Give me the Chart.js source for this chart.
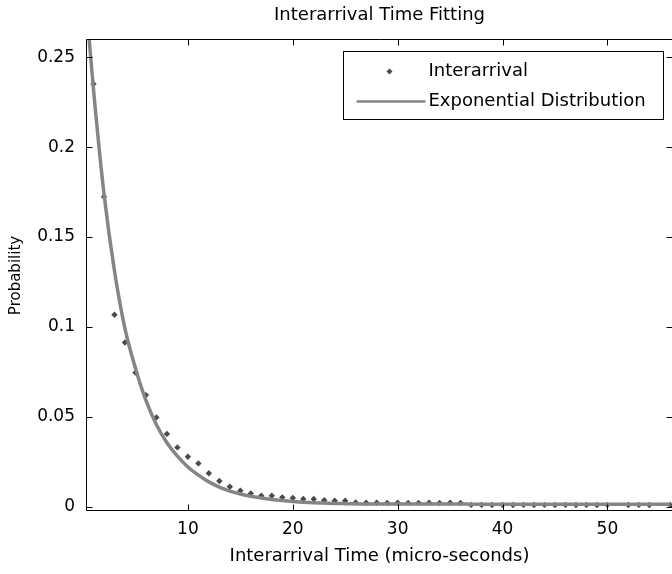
<!DOCTYPE html>
<html>
<head>
<meta charset="utf-8">
<script src="https://cdn.jsdelivr.net/npm/chart.js@4.4.1/dist/chart.umd.min.js"></script>
<style>
html, body { margin: 0; padding: 0; background: #ffffff; }
#wrap { width: 672px; height: 574px; position: relative; }
</style>
</head>
<body>
<div id="wrap"><canvas id="c" width="672" height="574"></canvas></div>
<script>
// ---------- values ----------
const titleText = 'Interarrival Time Fitting';
const xAxisTitle = 'Interarrival Time (micro-seconds)';
const yAxisTitle = 'Probability';
const seriesNames = ['Interarrival', 'Exponential Distribution'];

const interarrivalX = [1,2,3,4,5,6,7,8,9,10,11,12,13,14,15,16,17,18,19,20,21,22,23,24,25,26,27,28,29,30,31,32,33,34,35,36,37,38,39,40,41,42,43,44,45,46,47,48,49,50,51,52,53,54,55,56];
const interarrivalY = [0.2351,0.1724,0.1067,0.0913,0.0745,0.0620,0.0496,0.0404,0.0329,0.0277,0.0240,0.0185,0.0142,0.0110,0.0088,0.0073,0.0060,0.0060,0.0051,0.0047,0.0042,0.0042,0.0035,0.0032,0.0032,0.0022,0.0021,0.0021,0.0020,0.0021,0.0020,0.0020,0.0021,0.0020,0.0021,0.0020,0.0009,0.0009,0.0008,0.0009,0.0008,0.0009,0.0008,0.0009,0.0008,0.0009,0.0008,0.0009,0.0008,0.0009,null,0.0008,0.0009,0.0008,null,0.0008];

const fitX = [0,1,2,3,4,5,6,7,8,9,10,11,12,13,14,15,16,17,18,19,20,21,22,23,24,25,26,27,28,29,30,31,32,33,34,35,36,37,38,39,40,41,42,43,44,45,46,47,48,49,50,51,52,53,54,55,56];
const fitY = [0.300,0.232,0.174,0.131,0.099,0.077,0.059,0.0455,0.0355,0.028,0.022,0.0175,0.0137,0.0108,0.0086,0.0070,0.0057,0.0047,0.0039,0.0033,0.0028,0.0024,0.0021,0.0019,0.0017,0.0016,0.0015,0.0014,0.0014,0.0014,0.0014,0.0014,0.0014,0.0014,0.0014,0.0014,0.0014,0.0013,0.0013,0.0013,0.0013,0.0013,0.0013,0.0013,0.0013,0.0013,0.0013,0.0013,0.0013,0.0013,0.0013,0.0013,0.0013,0.0013,0.0013,0.0013,0.0013];

const xTicks = [10, 20, 30, 40, 50];
const xTickLabels = ['10', '20', '30', '40', '50'];
const yTicks = [0, 0.05, 0.1, 0.15, 0.2, 0.25];
const yTickLabels = ['0', '0.05', '0.1', '0.15', '0.2', '0.25'];

const xRange = [0.38, 56.16];
const yRange = [-0.0025, 0.2596];

// ---------- styles ----------
const FONT = '"DejaVu Sans", "Liberation Sans", Arial, sans-serif';
const markerColor = '#4a4a4a';
const lineColor = '#858585';

const boxPlugin = {
  id: 'matlabBox',
  afterDraw(chart) {
    const ctx = chart.ctx;
    const ca = chart.chartArea;
    const xs = chart.scales.x, ys = chart.scales.y;
    const L = Math.round(ca.left) - 0.5, T = Math.round(ca.top) - 0.5;
    const B = Math.round(ca.bottom) - 0.5, R = Math.round(ca.right) + 0.5;
    const tl = 6;
    ctx.save();
    ctx.strokeStyle = '#000';
    ctx.lineWidth = 1;
    ctx.beginPath();
    ctx.moveTo(R, T); ctx.lineTo(L, T); ctx.lineTo(L, B); ctx.lineTo(R, B);
    for (const v of xTicks) {
      const px = Math.round(xs.getPixelForValue(v)) + 0.5;
      ctx.moveTo(px, B); ctx.lineTo(px, B - tl);
      ctx.moveTo(px, T); ctx.lineTo(px, T + tl);
    }
    for (const v of yTicks) {
      const py = Math.round(ys.getPixelForValue(v)) + 0.5;
      ctx.moveTo(L, py); ctx.lineTo(L + tl, py);
      ctx.moveTo(R, py); ctx.lineTo(R - tl, py);
    }
    ctx.stroke();

    // legend inside the axes, top-right
    const boxW = 320, boxH = 68;
    const bx = Math.round(ca.right - 9 - boxW) + 0.5;
    const by = Math.round(ca.top + 12) - 0.5;
    ctx.fillStyle = '#fff';
    ctx.fillRect(bx, by, boxW, boxH);
    ctx.strokeRect(bx, by, boxW, boxH);
    const ds = chart.data.datasets;
    const row1 = by + 20, row2 = by + 50;
    ctx.fillStyle = ds[0].backgroundColor;
    ctx.beginPath();
    const mx = bx + 46, r = 3;
    ctx.moveTo(mx, row1 - r); ctx.lineTo(mx + r, row1); ctx.lineTo(mx, row1 + r); ctx.lineTo(mx - r, row1); ctx.closePath();
    ctx.fill();
    ctx.strokeStyle = ds[1].borderColor;
    ctx.lineWidth = 2.5;
    ctx.beginPath();
    ctx.moveTo(bx + 13, row2); ctx.lineTo(bx + 82, row2);
    ctx.stroke();
    ctx.fillStyle = '#000';
    ctx.font = '18px ' + FONT;
    ctx.textBaseline = 'middle';
    ctx.textAlign = 'left';
    ctx.fillText(ds[0].label, bx + 85, row1);
    ctx.fillText(ds[1].label, bx + 85, row2);
    ctx.restore();
  }
};

new Chart(document.getElementById('c'), {
  type: 'scatter',
  data: {
    datasets: [
      {
        label: seriesNames[0],
        data: interarrivalX.map((x, i) => ({ x: x, y: interarrivalY[i] })),
        pointStyle: 'rectRot',
        pointRadius: 3.2,
        pointHoverRadius: 3.2,
        backgroundColor: markerColor,
        borderColor: markerColor,
        borderWidth: 0,
        showLine: false,
        order: 2
      },
      {
        type: 'line',
        label: seriesNames[1],
        data: fitX.map((x, i) => ({ x: x, y: fitY[i] })),
        borderColor: lineColor,
        backgroundColor: lineColor,
        borderWidth: 3.5,
        pointRadius: 0,
        fill: false,
        cubicInterpolationMode: 'monotone',
        clip: 0,
        order: 1
      }
    ]
  },
  options: {
    responsive: false,
    animation: false,
    devicePixelRatio: 1,
    layout: { autoPadding: false, padding: { left: 0, right: 0, top: 0, bottom: 0 } },
    plugins: { legend: { display: false }, tooltip: { enabled: false }, title: { display: false } },
    scales: {
      x: {
        type: 'linear',
        position: 'bottom',
        min: xRange[0], max: xRange[1],
        afterBuildTicks: s => { s.ticks = xTicks.map(v => ({ value: v })); },
        afterFit: s => { s.height = 63; },
        grid: { display: false, drawTicks: false },
        border: { display: false },
        ticks: {
          color: '#000', padding: 8, maxRotation: 0, autoSkip: false,
          font: { family: FONT, size: 17 },
          callback: (v, i) => xTickLabels[i]
        },
        title: {
          display: true, text: xAxisTitle, color: '#000',
          font: { family: FONT, size: 18 },
          padding: { top: 0, bottom: 6.5 }
        }
      },
      top: {
        type: 'linear',
        position: 'top',
        min: 0, max: 1,
        afterBuildTicks: s => { s.ticks = []; },
        afterFit: s => { s.height = 40; },
        grid: { display: false, drawTicks: false },
        border: { display: false },
        ticks: { display: false },
        title: {
          display: true, text: titleText, color: '#000',
          font: { family: FONT, size: 18 },
          padding: { top: 5, bottom: 0 }
        }
      },
      y: {
        type: 'linear',
        position: 'left',
        min: yRange[0], max: yRange[1],
        afterBuildTicks: s => { s.ticks = yTicks.map(v => ({ value: v })); },
        afterFit: s => { s.width = 87; },
        grid: { display: false, drawTicks: false },
        border: { display: false },
        ticks: {
          color: '#000', padding: 12, autoSkip: false,
          font: { family: FONT, size: 17 },
          callback: (v, i) => yTickLabels[i]
        },
        title: {
          display: true, text: yAxisTitle, color: '#000',
          font: { family: FONT, size: 15 },
          padding: { top: 7, bottom: 0 }
        }
      }
    }
  },
  plugins: [boxPlugin]
});
</script>
</body>
</html>
